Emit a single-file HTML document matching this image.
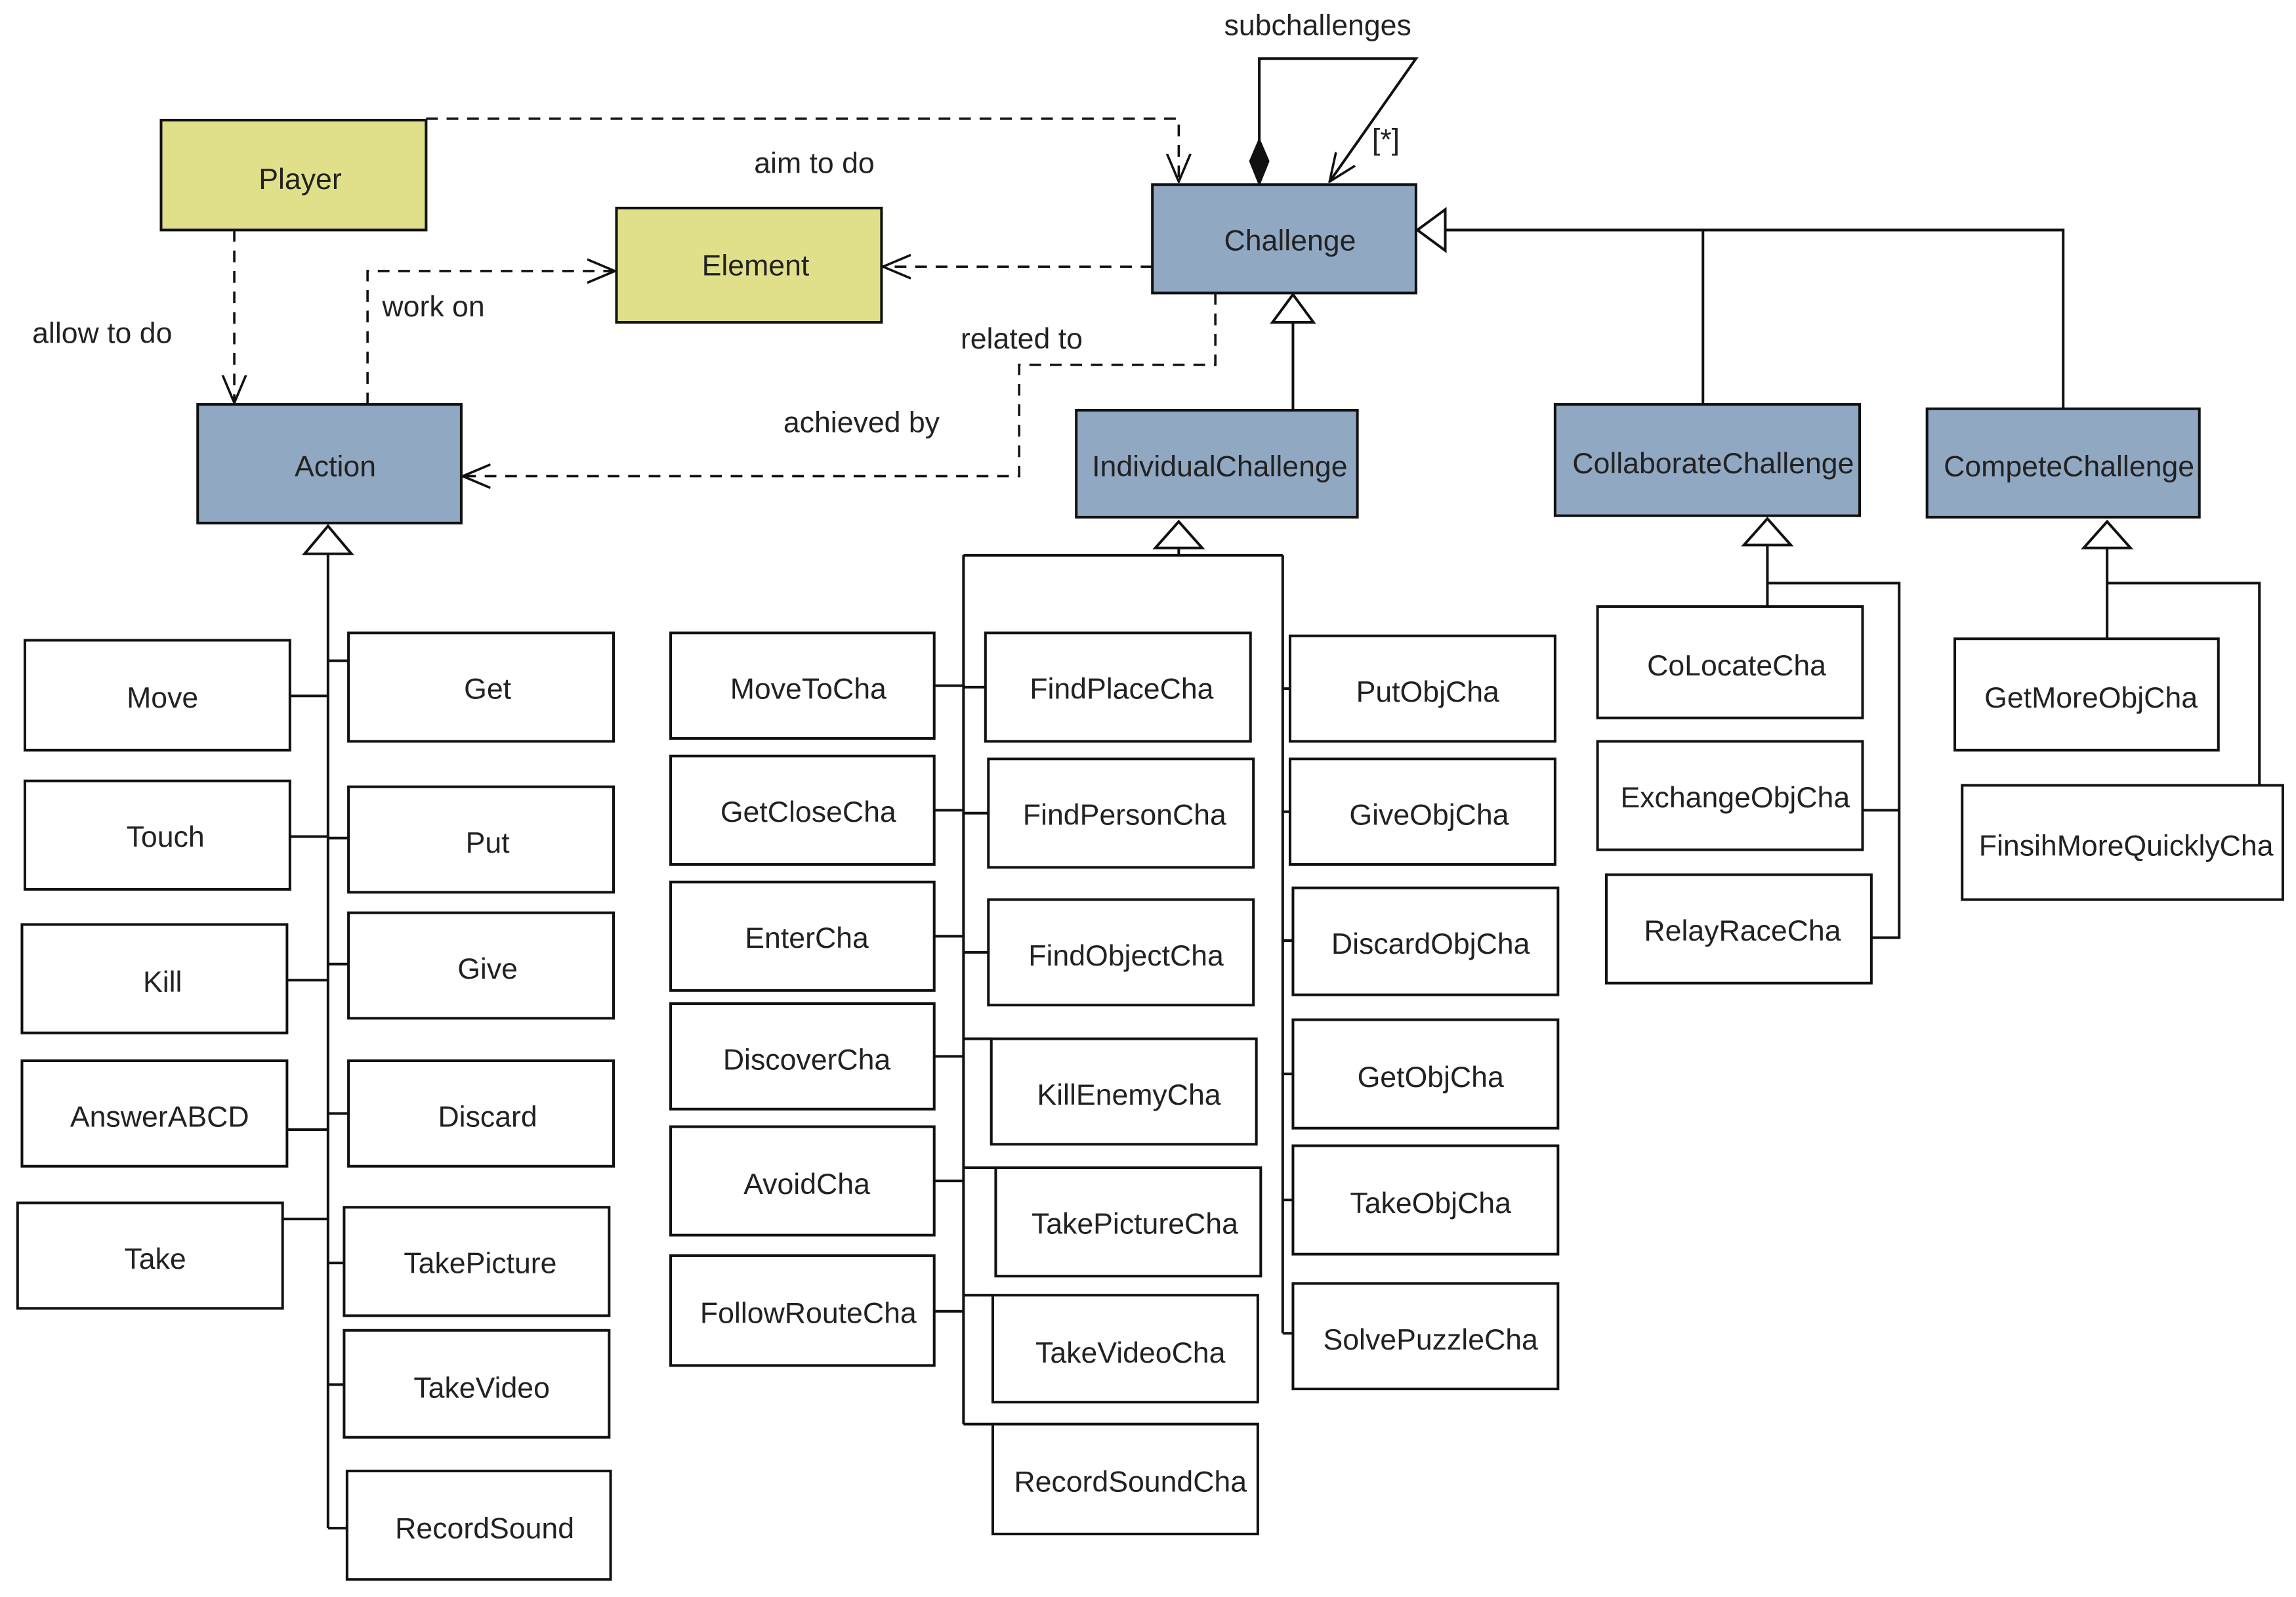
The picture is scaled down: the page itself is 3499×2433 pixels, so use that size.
<!DOCTYPE html>
<html><head><meta charset="utf-8"><style>
html,body{margin:0;padding:0;background:#fff;}
svg{display:block;}
text{font-family:"Liberation Sans","DejaVu Sans",sans-serif;font-size:20px;fill:#222;}
</style></head><body>
<svg width="3499" height="2433" viewBox="0 0 1568 1090" preserveAspectRatio="none" xmlns="http://www.w3.org/2000/svg">
<defs>
<marker id="oa" viewBox="0 0 20 20" refX="19" refY="10" markerWidth="20" markerHeight="20" markerUnits="userSpaceOnUse" orient="auto">
<path d="M0,2 L19,10 L0,18" fill="none" stroke="#111" stroke-width="1.6"/>
</marker>
</defs>
<g stroke="#111" stroke-width="1.8" fill="none">
<!-- dashed dependencies -->
<g stroke-dasharray="8,6" stroke-width="1.6">
<path d="M291,81 H805 V124" marker-end="url(#oa)"/>
<path d="M160,157 V275" marker-end="url(#oa)"/>
<path d="M251,276 V185 H420" marker-end="url(#oa)"/>
<path d="M787,182 H603" marker-end="url(#oa)"/>
<path d="M830,200 V249 H696 V325 H316" marker-end="url(#oa)"/>
</g>
<!-- subchallenges -->
<path d="M860,96 V40 H967 L908,124" marker-end="url(#oa)"/>
<path d="M860,96 L866,110 L860,125 L854,110 Z" fill="#111"/>
<!-- challenge generalizations -->
<path d="M987,157 H1409 V279 M1163,157 V276"/>
<path d="M968,157 L987,143 L987,171 Z" fill="#fff"/>
<path d="M883,220 V280"/>
<path d="M883,201 L897,220 L869,220 Z" fill="#fff"/>
<!-- Action tree -->
<path d="M224,378 V1043"/>
<path d="M224,359 L240,378 L208,378 Z" fill="#fff"/>
<path d="M198,475H224 M198,571H224 M196,669H224 M196,771H224 M193,832H224"/>
<path d="M224,451H238 M224,572H238 M224,658H238 M224,760H238 M224,862H235 M224,945H235 M224,1043H237"/>
<!-- Individual tree -->
<path d="M805,356 L821,374 L789,374 Z" fill="#fff"/>
<path d="M805,374V379 M658,379H876 M658,379V972 M876,379V910"/>
<path d="M638,468H658 M638,553H658 M638,639H658 M638,721H658 M638,806H658 M638,895H658"/>
<path d="M658,469H673 M658,555H675 M658,650H675 M658,709H677 M658,797H680 M658,884H678 M658,972H678"/>
<path d="M876,470H881 M876,554H881 M876,642H883 M876,733H883 M876,819H883 M876,910H883"/>
<!-- Collaborate tree -->
<path d="M1207,354 L1223,372 L1191,372 Z" fill="#fff"/>
<path d="M1207,372V414 M1207,398H1297V640H1278 M1272,553H1297"/>
<!-- Compete tree -->
<path d="M1439,356 L1455,374 L1423,374 Z" fill="#fff"/>
<path d="M1439,374V436 M1439,398H1543V575H1559"/>
</g>
<!-- boxes -->
<g stroke="#111" stroke-width="1.8">
<rect x="110" y="82" width="181" height="75" fill="#e0e08a"/>
<rect x="421" y="142" width="181" height="78" fill="#e0e08a"/>
<rect x="787" y="126" width="180" height="74" fill="#91a8c2"/>
<rect x="135" y="276" width="180" height="81" fill="#91a8c2"/>
<rect x="735" y="280" width="192" height="73" fill="#91a8c2"/>
<rect x="1062" y="276" width="208" height="76" fill="#91a8c2"/>
<rect x="1316" y="279" width="186" height="74" fill="#91a8c2"/>
</g>
<g stroke="#111" stroke-width="1.8" fill="#fff">
<rect x="17" y="437" width="181" height="75"/>
<rect x="17" y="533" width="181" height="74"/>
<rect x="15" y="631" width="181" height="74"/>
<rect x="15" y="724" width="181" height="72"/>
<rect x="12" y="821" width="181" height="72"/>
<rect x="238" y="432" width="181" height="74"/>
<rect x="238" y="537" width="181" height="72"/>
<rect x="238" y="623" width="181" height="72"/>
<rect x="238" y="724" width="181" height="72"/>
<rect x="235" y="824" width="181" height="74"/>
<rect x="235" y="908" width="181" height="73"/>
<rect x="237" y="1004" width="180" height="74"/>
<rect x="458" y="432" width="180" height="72"/>
<rect x="458" y="516" width="180" height="74"/>
<rect x="458" y="602" width="180" height="74"/>
<rect x="458" y="685" width="180" height="72"/>
<rect x="458" y="769" width="180" height="74"/>
<rect x="458" y="857" width="180" height="75"/>
<rect x="673" y="432" width="181" height="74"/>
<rect x="675" y="518" width="181" height="74"/>
<rect x="675" y="614" width="181" height="72"/>
<rect x="677" y="709" width="181" height="72"/>
<rect x="680" y="797" width="181" height="74"/>
<rect x="678" y="884" width="181" height="73"/>
<rect x="678" y="972" width="181" height="75"/>
<rect x="881" y="434" width="181" height="72"/>
<rect x="881" y="518" width="181" height="72"/>
<rect x="883" y="606" width="181" height="73"/>
<rect x="883" y="696" width="181" height="74"/>
<rect x="883" y="782" width="181" height="74"/>
<rect x="883" y="876" width="181" height="72"/>
<rect x="1091" y="414" width="181" height="76"/>
<rect x="1091" y="506" width="181" height="74"/>
<rect x="1097" y="597" width="181" height="74"/>
<rect x="1335" y="436" width="180" height="76"/>
<rect x="1340" y="536" width="219" height="78"/>
</g>
<g text-anchor="middle">
<text x="205" y="129">Player</text>
<text x="516" y="188">Element</text>
<text x="881" y="171">Challenge</text>
<text x="229" y="325">Action</text>
<text x="833" y="325">IndividualChallenge</text>
<text x="1170" y="323">CollaborateChallenge</text>
<text x="1413" y="325">CompeteChallenge</text>
<text x="111" y="483">Move</text>
<text x="113" y="578">Touch</text>
<text x="111" y="677">Kill</text>
<text x="109" y="769">AnswerABCD</text>
<text x="106" y="866">Take</text>
<text x="333" y="477">Get</text>
<text x="333" y="582">Put</text>
<text x="333" y="668">Give</text>
<text x="333" y="769">Discard</text>
<text x="328" y="869">TakePicture</text>
<text x="329" y="954">TakeVideo</text>
<text x="331" y="1050">RecordSound</text>
<text x="552" y="477">MoveToCha</text>
<text x="552" y="561">GetCloseCha</text>
<text x="551" y="647">EnterCha</text>
<text x="551" y="730">DiscoverCha</text>
<text x="551" y="815">AvoidCha</text>
<text x="552" y="903">FollowRouteCha</text>
<text x="766" y="477">FindPlaceCha</text>
<text x="768" y="563">FindPersonCha</text>
<text x="769" y="659">FindObjectCha</text>
<text x="771" y="754">KillEnemyCha</text>
<text x="775" y="842">TakePictureCha</text>
<text x="772" y="930">TakeVideoCha</text>
<text x="772" y="1018">RecordSoundCha</text>
<text x="975" y="479">PutObjCha</text>
<text x="976" y="563">GiveObjCha</text>
<text x="977" y="651">DiscardObjCha</text>
<text x="977" y="742">GetObjCha</text>
<text x="977" y="828">TakeObjCha</text>
<text x="977" y="921">SolvePuzzleCha</text>
<text x="1186" y="461">CoLocateCha</text>
<text x="1185" y="551">ExchangeObjCha</text>
<text x="1190" y="642">RelayRaceCha</text>
<text x="1428" y="483">GetMoreObjCha</text>
<text x="1452" y="584">FinsihMoreQuicklyCha</text>
</g>
<text x="836" y="24">subchallenges</text>
<text x="937" y="102">[*]</text>
<text x="515" y="118">aim to do</text>
<text x="22" y="234">allow to do</text>
<text x="261" y="216">work on</text>
<text x="656" y="238">related to</text>
<text x="535" y="295">achieved by</text>
</svg>
</body></html>
